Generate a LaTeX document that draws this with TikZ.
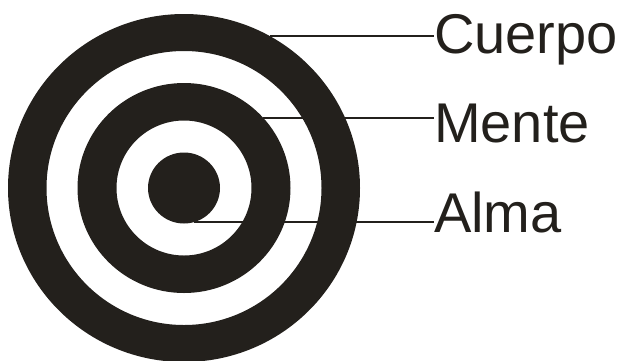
\documentclass[tikz,border=0pt]{standalone}
\usepackage{fontspec}
\setmainfont{Liberation Sans}
\definecolor{ink}{RGB}{35,32,28}
\begin{document}
\begin{tikzpicture}[x=1pt, y=-1pt,
    ring/.style={fill=ink, even odd rule},
    leader/.style={ink, line width=1.2pt},
    label/.style={anchor=base west, inner sep=0pt, text=ink,
        font=\fontsize{56}{60}\selectfont}]
    \useasboundingbox (0,0) rectangle (621,360);
    \clip (0,0) rectangle (621,360);

    % Target rings
    \coordinate (ctr) at (184, 188);
    \fill[ring] (ctr) ellipse [x radius=176pt, y radius=174pt]
                (ctr) ellipse [x radius=137.5pt, y radius=137pt];
    \fill[ring] (ctr) ellipse [x radius=106.5pt, y radius=105pt]
                (ctr) ellipse [x radius=67.5pt, y radius=67.5pt];
    \fill[ink] (ctr) ellipse [x radius=36pt, y radius=35.5pt];

    % Labels
    \node[label] (cuerpo) at (434, 53) {Cuerpo};
    \node[label] (mente) at (434, 142) {Mente};
    \node[label] (alma) at (434, 232) {Alma};

    % Points on the rings
    \coordinate (pc) at (270, 36);
    \coordinate (pm) at (263, 118);
    \coordinate (pa) at (194, 222);

    % Leader lines
    \draw[leader] (pc) -- (pc -| cuerpo.west);
    \draw[leader] (pm) -- (pm -| mente.west);
    \draw[leader] (pa) -- (pa -| alma.west);
\end{tikzpicture}
\end{document}
